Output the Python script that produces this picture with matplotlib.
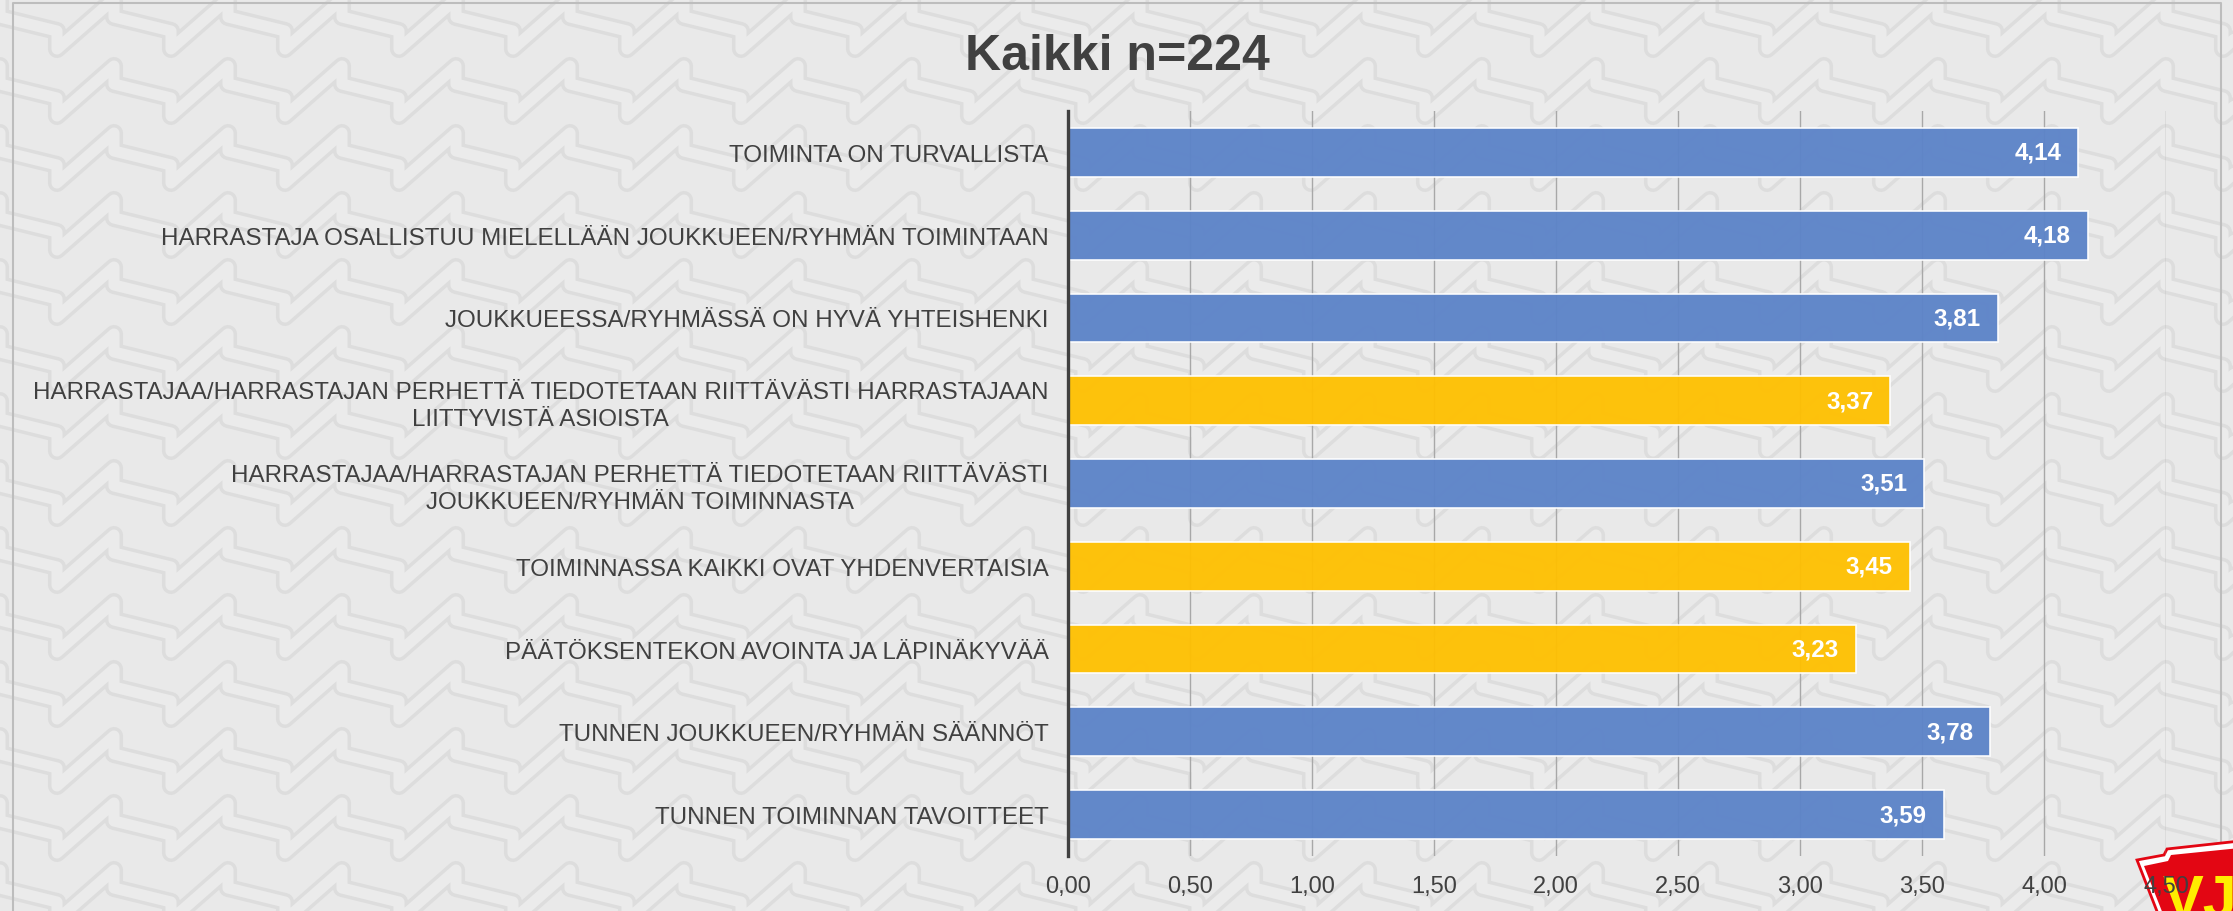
import matplotlib
matplotlib.use("Agg")
import matplotlib.pyplot as plt
from matplotlib.patches import Polygon
import numpy as np

plt.rcParams['font.family'] = ['Liberation Sans', 'DejaVu Sans']

# ---------------- data ----------------
categories = [
    "TOIMINTA ON TURVALLISTA",
    "HARRASTAJA OSALLISTUU MIELELLÄÄN JOUKKUEEN/RYHMÄN TOIMINTAAN",
    "JOUKKUEESSA/RYHMÄSSÄ ON HYVÄ YHTEISHENKI",
    "HARRASTAJAA/HARRASTAJAN PERHETTÄ TIEDOTETAAN RIITTÄVÄSTI HARRASTAJAAN\nLIITTYVISTÄ ASIOISTA",
    "HARRASTAJAA/HARRASTAJAN PERHETTÄ TIEDOTETAAN RIITTÄVÄSTI\nJOUKKUEEN/RYHMÄN TOIMINNASTA",
    "TOIMINNASSA KAIKKI OVAT YHDENVERTAISIA",
    "PÄÄTÖKSENTEKON AVOINTA JA LÄPINÄKYVÄÄ",
    "TUNNEN JOUKKUEEN/RYHMÄN SÄÄNNÖT",
    "TUNNEN TOIMINNAN TAVOITTEET",
]
values = [4.14, 4.18, 3.81, 3.37, 3.51, 3.45, 3.23, 3.78, 3.59]
highlight = [False, False, False, True, False, True, True, False, False]
xticks = [0.0, 0.5, 1.0, 1.5, 2.0, 2.5, 3.0, 3.5, 4.0, 4.5]
title = "Kaikki n=224"

BLUE = "#5B83C8"
YELLOW = "#FFC000"
TEXT = "#404040"
BG = "#e9e9e9"

W, H = 2233, 912
fig = plt.figure(figsize=(W / 100, H / 100), dpi=100)
fig.patch.set_facecolor(BG)

# ---------------- background pattern / frame / logo ----------------
bg = fig.add_axes([0, 0, 1, 1], zorder=0)
bg.set_xlim(0, W)
bg.set_ylim(H, 0)
bg.axis("off")
bg.set_facecolor(BG)

cw, rh, A, L = 57, 67, 32, 18
ncols = W // cw + 3
for j in range(-2, H // rh + 3):
    y0 = j * rh
    xs, ys = [], []
    for k in range(-1, ncols):
        x = k * cw
        yb = y0 + (A if k % 2 else 0)
        xs += [x, x]
        ys += [yb, yb + L]
    bg.plot(xs, ys, color="#dddddd", lw=13, solid_joinstyle="round",
            solid_capstyle="round", zorder=1)
    bg.plot(xs, ys, color="#ebebeb", lw=8, solid_joinstyle="round",
            solid_capstyle="round", zorder=2)

# frame
bg.plot([13, 13, 2221, 2221], [H + 5, 4, 4, H + 5], color="#bdbdbd", lw=1.5, zorder=3)

# logo (partially cut)
outer = Polygon([[2137, 861], [2164, 856], [2167, 850], [2240, 842], [2240, 920], [2160, 920]],
                closed=True, facecolor="white", edgecolor="#e30613", lw=2, zorder=4)
inner = Polygon([[2144, 867], [2168, 862], [2171, 856], [2240, 849], [2240, 920], [2165, 920]],
                closed=True, facecolor="#e30613", edgecolor="none", zorder=5)
bg.add_patch(outer)
bg.add_patch(inner)
bg.text(2163, 874, "VJ", color="#ffed00", fontsize=44, fontweight="bold",
        ha="left", va="top", zorder=6)

# ---------------- main chart ----------------
left = 1068 / W
right = (1068 + 4.5 * 244) / W
bottom = 1 - 857 / H
top = 1 - 112 / H
ax = fig.add_axes([left, bottom, right - left, top - bottom], zorder=2)
ax.set_facecolor("none")

ypos = np.arange(len(categories))
colors = [YELLOW if h else BLUE for h in highlight]
ax.barh(ypos, values, height=0.59, color=colors, alpha=0.95,
        edgecolor=(1, 1, 1, 0.55), linewidth=1.2, zorder=3)

for yi, v in zip(ypos, values):
    ax.text(v - 0.07, yi, f"{v:.2f}".replace(".", ","), ha="right", va="center",
            color="white", fontsize=17.4, fontweight="bold", zorder=4)

ax.set_xlim(0, 4.5)
ax.set_ylim(len(categories) - 0.5, -0.5)
ax.set_xticks(xticks)
ax.set_xticklabels([f"{t:.2f}".replace(".", ",") for t in xticks])
ax.set_yticks(ypos)
ax.set_yticklabels(categories, multialignment="center", linespacing=1.28)
ax.tick_params(axis="x", length=0, pad=14, labelsize=17, labelcolor=TEXT)
ax.tick_params(axis="y", length=0, pad=14, labelsize=17.4, labelcolor=TEXT)

ax.grid(axis="x", color="#a8a8a8", lw=1.0, zorder=1)
ax.set_axisbelow(True)
for s in ["top", "right", "bottom"]:
    ax.spines[s].set_visible(False)
ax.spines["left"].set_color(TEXT)
ax.spines["left"].set_linewidth(2.4)
ax.spines["left"].set_zorder(5)

fig.text(1117 / W, 1 - 57 / H, title, ha="center", va="center",
         fontsize=36, fontweight="bold", color=TEXT)

fig.savefig("out.png", dpi=100, facecolor=fig.get_facecolor())
